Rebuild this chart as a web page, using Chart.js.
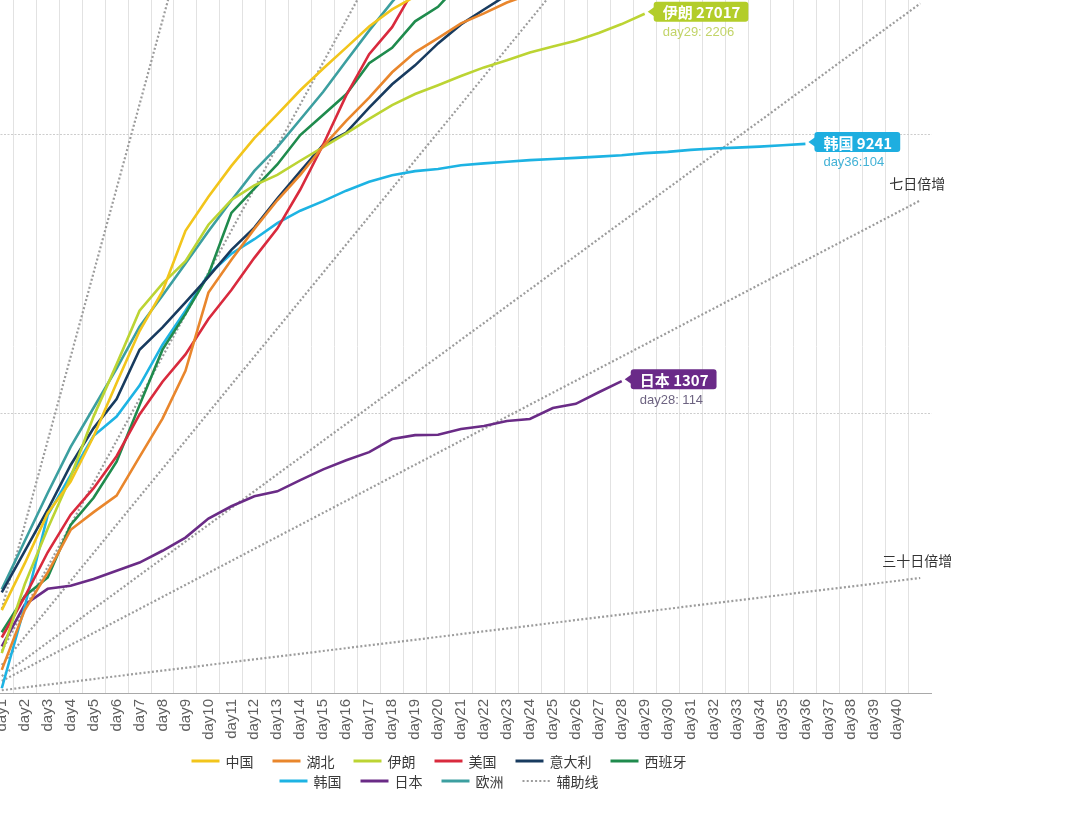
<!DOCTYPE html>
<html><head><meta charset="utf-8">
<script src="https://cdn.jsdelivr.net/npm/chart.js@4.4.1/dist/chart.umd.min.js"></script>
<style>
html,body{margin:0;padding:0;background:#fff;overflow:hidden;width:1069px;height:838px;}
#wrap{position:absolute;left:-59px;top:0;width:1030px;height:800px;}
canvas{display:block;}
</style></head><body>
<div id="wrap"><canvas id="c" width="1030" height="800"></canvas></div>
<script>
// ---- categories / tick labels ----
const days = ['day1','day2','day3','day4','day5','day6','day7','day8','day9','day10',
  'day11','day12','day13','day14','day15','day16','day17','day18','day19','day20',
  'day21','day22','day23','day24','day25','day26','day27','day28','day29','day30',
  'day31','day32','day33','day34','day35','day36','day37','day38','day39','day40',''];
const yGridValues = [100, 1000, 10000];

// ---- series (cumulative cases) ----
const china  = [198,291,440,571,830,1287,1975,2744,4515,5974,7711,9692,11791,14380,17205,20438,24324,28018,31161,34546];
const hubei  = [121,198,270,384,444,509,700,960,1423,2714,3554,4586,5806,7153,9074,11177,13522,16678,19665,22112,24953,27100,29631,31728];
const iran   = [139,245,388,593,978,1501,2336,2922,3513,4747,5823,6566,7161,8042,9000,10075,11364,12729,13938,14991,16169,17361,18407,19644,20610,21638,23049,24811,27017];
const usa    = [158,221,319,435,541,704,994,1301,1630,2183,2770,3613,4596,6344,9197,13779,19367,24192,33592];
const italy  = [229,322,453,655,888,1128,1694,2036,2502,3089,3858,4636,5883,7375,9172,10149,12462,15113,17660,21157,24747,27980,31506];
const spain  = [165,222,259,400,500,673,1073,1695,2277,3146,5232,6391,7798,9942,11748,13910,17963,20410,25374,28603,35136];
const korea  = [104,204,433,602,833,977,1261,1766,2337,3150,3736,4212,4812,5328,5766,6284,6767,7134,7382,7513,7755,7869,7979,8086,8162,8236,8320,8413,8565,8652,8799,8897,8961,9037,9137,9241];
const japan  = [147,207,236,242,256,274,293,323,360,421,466,506,527,578,632,681,728,811,838,840,881,903,941,957,1048,1084,1193,1307];
const europe = [235,350,520,760,1050,1450,2050,2650,3450,4500,5800,7400,9000,11300,14200,18300,23500,29800,37000];

const seriesNames  = ['中国','湖北','伊朗','美国','意大利','西班牙','韩国','日本','欧洲'];
const seriesData   = [china,hubei,iran,usa,italy,spain,korea,japan,europe];
const seriesColors = ['#f2c51b','#e9862c','#bcd433','#d92a3d','#183b5f','#1f8b4d','#1db3e3','#6a2b86','#3c9fa0'];

// ---- doubling guide lines (辅助线): start/end points ----
const guideStartDay   = [1, 1, 1, 1, 1, 1];
const guideStartValue = [200, 141.4, 126, 114.9, 110.4, 102.3];
const guideEndDay     = [9, 17, 25, 41, 41, 41];
const guideEndValue   = [51200, 36204, 32254, 29407, 5797, 258];
const guideLabels     = ['', '', '', '', '七日倍增', '三十日倍增'];

// ---- callouts ----
const calloutSeries = ['伊朗','韩国','日本'];
const calloutTitle  = ['伊朗 27017','韩国 9241','日本 1307'];
const calloutSub    = ['day29: 2206','day36:104','day28: 114'];
const calloutBox    = ['#b3cd2a','#1eaee0','#6a2a88'];
const calloutSubCol = ['#c2d468','#43b2d6','#6d6381'];

// ---- legend rows ----
const legendRows = [['中国','湖北','伊朗','美国','意大利','西班牙'], ['韩国','日本','欧洲','辅助线']];

const LAT = "'Liberation Sans','Noto Sans CJK SC',sans-serif";
const CJK = "'Noto Sans CJK SC','Liberation Sans',sans-serif";
const GUIDE_COLOR = '#9c9c9c';

const datasets = seriesNames.map((n,i)=>({
  label:n, data:seriesData[i], borderColor:seriesColors[i], backgroundColor:seriesColors[i],
  borderWidth:2.6, pointRadius:0, tension:0, fill:false, isSeries:true
}));
guideStartDay.forEach((d,i)=>{
  const arr = days.map(()=>null);
  arr[d-1] = guideStartValue[i];
  arr[guideEndDay[i]-1] = guideEndValue[i];
  datasets.push({label:'辅助线', data:arr, borderColor:GUIDE_COLOR, borderWidth:2.2,
    borderDash:[2,2.2], pointRadius:0, spanGaps:true, tension:0, fill:false,
    guideLabel:guideLabels[i]});
});

function roundRect(ctx,x,y,w,h,r){
  ctx.beginPath();
  ctx.moveTo(x+r,y); ctx.lineTo(x+w-r,y); ctx.quadraticCurveTo(x+w,y,x+w,y+r);
  ctx.lineTo(x+w,y+h-r); ctx.quadraticCurveTo(x+w,y+h,x+w-r,y+h);
  ctx.lineTo(x+r,y+h); ctx.quadraticCurveTo(x,y+h,x,y+h-r);
  ctx.lineTo(x,y+r); ctx.quadraticCurveTo(x,y,x+r,y); ctx.closePath();
}

const annotate = {
  id:'annotate',
  afterDraw(chart){
    const ctx = chart.ctx;
    ctx.save();
    chart.data.datasets.forEach((ds,di)=>{
      const meta = chart.getDatasetMeta(di);
      let last = -1;
      ds.data.forEach((v,k)=>{ if(v!==null && v!==undefined) last=k; });
      if(last<0) return;
      const pt = meta.data[last];
      const ci = calloutSeries.indexOf(ds.label);
      if(ds.isSeries && ci>=0){
        const tipX = pt.x + 3, cy = pt.y - 2;
        ctx.font = "bold 15px " + CJK;
        const tw = ctx.measureText(calloutTitle[ci]).width;
        const x0 = tipX + 6, w = tw + 17, h = 20, y0 = cy - 10;
        ctx.fillStyle = calloutBox[ci];
        ctx.beginPath();
        ctx.moveTo(tipX, cy); ctx.lineTo(x0+1, cy-5); ctx.lineTo(x0+1, cy+5); ctx.closePath();
        ctx.fill();
        roundRect(ctx,x0,y0,w,h,3); ctx.fill();
        ctx.fillStyle = '#ffffff';
        ctx.textBaseline = 'middle'; ctx.textAlign = 'left';
        ctx.fillText(calloutTitle[ci], x0 + 9, cy + 1);
        ctx.font = "13px " + LAT;
        ctx.fillStyle = calloutSubCol[ci];
        ctx.fillText(calloutSub[ci], x0 + 9, cy + 21);
      }
      if(ds.guideLabel){
        ctx.font = "14px " + CJK;
        ctx.fillStyle = '#333';
        ctx.textAlign = 'center'; ctx.textBaseline = 'middle';
        ctx.fillText(ds.guideLabel, pt.x - 3, pt.y - 17);
      }
    });

    // legend (two centred rows under the axis)
    const ca = chart.chartArea;
    const centerX = (ca.left + ca.right)/2 - 22;
    const rowY = [ca.bottom + 68, ca.bottom + 88];
    const lineW = 28, gap = 6, spacing = 19;
    ctx.font = "14px " + CJK;
    ctx.textBaseline = 'middle'; ctx.textAlign = 'left';
    legendRows.forEach((row,ri)=>{
      const widths = row.map(n=>lineW + gap + ctx.measureText(n).width);
      const total = widths.reduce((a,b)=>a+b,0) + spacing*(row.length-1);
      let x = centerX - total/2;
      row.forEach((n,k)=>{
        const si = seriesNames.indexOf(n);
        ctx.save();
        ctx.beginPath();
        if(si>=0){
          ctx.strokeStyle = seriesColors[si]; ctx.lineWidth = 3; ctx.setLineDash([]);
        } else {
          ctx.strokeStyle = GUIDE_COLOR; ctx.lineWidth = 2; ctx.setLineDash([2,2.2]);
        }
        ctx.moveTo(x, rowY[ri]); ctx.lineTo(x+lineW, rowY[ri]); ctx.stroke();
        ctx.restore();
        ctx.fillStyle = '#3a3a3a';
        ctx.fillText(n, x + lineW + gap, rowY[ri] + 0.5);
        x += widths[k] + spacing;
      });
    });
    ctx.restore();
  }
};

new Chart(document.getElementById('c'), {
  type:'line',
  data:{labels:days, datasets},
  options:{
    responsive:false, animation:false, devicePixelRatio:1, events:[],
    layout:{padding:{left:0,right:39.3,top:0,bottom:54}},
    scales:{
      x:{
        type:'category', offset:true,
        grid:{offset:true, drawTicks:false, lineWidth:1,
          color:c => (c.tick && c.index>0) ? '#e2e2e2' : 'rgba(0,0,0,0)'},
        border:{display:true, color:'#a9a9a9', width:1},
        ticks:{autoSkip:false, maxRotation:90, minRotation:90, padding:6, color:'#606060',
          font:{family:LAT, size:15}},
        afterFit:s=>{ s.height = 53; }
      },
      y:{
        type:'logarithmic', min:100, max:30260, position:'left',
        afterBuildTicks:s=>{ s.ticks = yGridValues.map(v=>({value:v})); },
        afterFit:s=>{ s.width = 49.3; },
        ticks:{display:false},
        grid:{drawTicks:false, lineWidth:1,
          color:c => (c.tick && c.tick.value>100) ? '#cdcdcd' : 'rgba(0,0,0,0)'},
        border:{display:false, dash:[2,1.5]}
      }
    },
    plugins:{
      tooltip:{enabled:false},
      legend:{display:false}
    }
  },
  plugins:[annotate]
});
</script>
</body></html>
